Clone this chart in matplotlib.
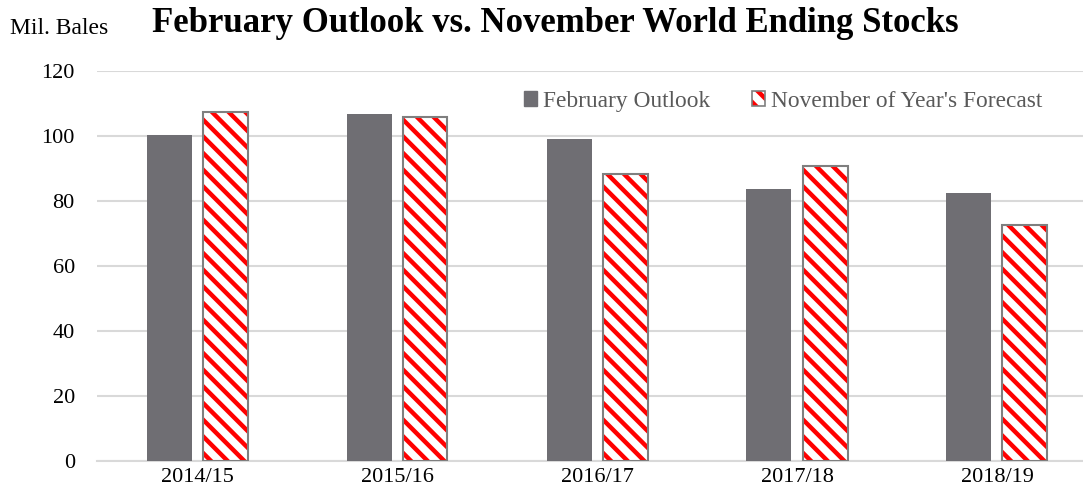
import matplotlib.pyplot as plt
import numpy as np
from matplotlib.patches import Patch
from matplotlib.legend_handler import HandlerTuple

years = ['2014/15', '2015/16', '2016/17', '2017/18', '2018/19']
feb_outlook = [100.4, 106.7, 99.1, 83.8, 82.6]
nov_forecast = [107.4, 106.0, 88.4, 90.9, 72.6]

plt.rcParams['font.family'] = 'Liberation Serif'
plt.rcParams['hatch.linewidth'] = 3.2

fig = plt.figure(figsize=(10.83, 5.01), dpi=100, facecolor='white')
ax = fig.add_axes([97 / 1083, 40 / 501, 1000 / 1083, 390 / 501])

x = np.arange(len(years))
w = 0.225
off = 0.14
grey = '#6f6e73'
ax.bar(x - off, feb_outlook, w, color=grey, zorder=3)
ax.bar(x + off, nov_forecast, w, color='white', edgecolor='#ff0000',
       hatch='\\\\', linewidth=0, zorder=3)
ax.bar(x + off, nov_forecast, w, fill=False, edgecolor='#7f7f7f',
       linewidth=1.5, zorder=4)

ax.set_xlim(-0.5, 4.5)
ax.set_ylim(0, 120)
ax.set_yticks(range(0, 121, 20))
ax.set_xticks(x)
ax.set_xticklabels(years)
ax.yaxis.grid(True, color='#d9d9d9', linewidth=1.5, zorder=0)
for s in ['top', 'right', 'left']:
    ax.spines[s].set_visible(False)
ax.spines['bottom'].set_color('#d9d9d9')
ax.spines['bottom'].set_linewidth(1.5)
ax.tick_params(axis='both', length=0, labelsize=16, colors='black')
ax.tick_params(axis='y', pad=16)
ax.tick_params(axis='x', pad=5)

# legend: hatched square drawn as two stacked patches (red hatch + grey border)
h1 = Patch(facecolor=grey, edgecolor=grey)
h2a = Patch(facecolor='white', edgecolor='#ff0000', hatch='\\\\', linewidth=0)
h2b = Patch(fill=False, edgecolor='#7f7f7f', linewidth=1.2)
leg = ax.legend([h1, (h2a, h2b)], ['February Outlook', "November of Year's Forecast"],
                handler_map={tuple: HandlerTuple(ndivide=1, pad=0)},
                ncol=2, frameon=False, loc='center left',
                bbox_to_anchor=(0.427, 0.923), handlelength=0.56, handleheight=0.6,
                handletextpad=0.26, columnspacing=1.8, fontsize=16.8,
                borderpad=0, borderaxespad=0)
for t in leg.get_texts():
    t.set_color('#595959')

fig.text(10 / 1083, 1 - 28 / 501, 'Mil. Bales', fontsize=17, va='center', ha='left')
fig.text(555 / 1083, 1 - 24 / 501, 'February Outlook vs. November World Ending Stocks',
         fontsize=25, fontweight='bold', va='center', ha='center')

fig.savefig('out.png', dpi=100)
